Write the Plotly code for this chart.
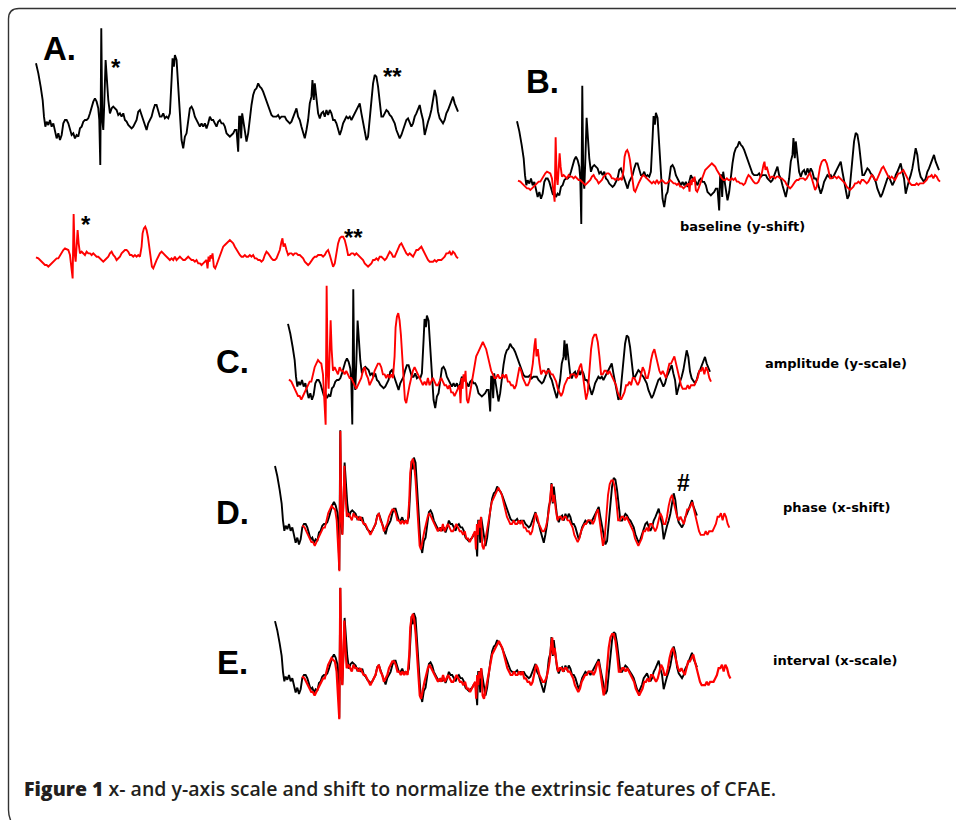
import plotly.graph_objects as go

W, H = 956, 820

# Base (black) electrogram: sample position, amplitude
black_t = [48,55,62,68,72,76,80,85,90,95,100,105,110,115,120,125,130,135,140,145,150,155,160,165,170,175,180,185,190,195,200,205,210,215,220,225,230,235,238,241,244,247,250,253,257,261,265,270,275,280,285,290,295,300,305,310,315,320,325,330,335,340,345,350,355,360,365,370,375,380,385,390,395,400,405,410,415,420,425,430,435,440,445,450,455,458,462,465,470,475,480,485,490,495,500,505,510,515,520,525,530,535,540,545,550,555,560,565,570,575,580,585,590,595,600,605,610,615,620,625,630,635,640,645,650,655,658,661,664,667,670,675,680,685,690,695,700,705,710,715,720,725,730,735,740,745,750,755,760,765,770,775,780,785,790,795,800,805,810,815,820,825,830,835,840,845,850,855,860,865,870,875,878,882,885,890,895,900,905,910,915,920,925,930,935,940,945,950,955,960,965,970,975,980,985,990,995,1000,1005,1010,1015,1020,1025,1030,1035,1040,1045,1050,1055,1060,1065,1070,1075,1080,1085,1090,1095,1100,1105,1110,1115,1120,1125,1130,1135,1140,1145,1150,1155,1160,1165,1170,1175,1180,1185,1190,1195,1200,1205,1210,1215,1220,1225,1230,1235,1240,1245,1250,1255,1260,1265,1270,1275,1280,1285,1290,1295,1300,1305,1310,1315]
black_y = [130,160,200,240,290,320,305,315,300,320,310,330,355,340,360,345,310,300,300,310,330,345,340,355,345,350,325,320,305,300,300,295,280,260,245,235,245,265,300,435,25,300,330,250,120,180,240,280,265,260,265,270,285,280,290,280,300,305,315,320,325,320,310,300,275,270,285,300,310,330,310,300,290,270,255,255,275,290,290,280,295,290,295,280,180,115,140,105,120,200,300,360,385,350,340,300,265,260,270,290,300,310,320,310,320,310,325,310,290,300,300,310,320,305,300,310,310,320,340,345,350,345,340,330,330,395,290,290,355,280,300,340,365,340,290,255,225,210,205,190,200,205,215,230,245,260,275,285,290,290,290,285,295,290,290,290,300,305,310,305,290,275,265,290,300,320,340,355,330,300,250,230,180,240,190,230,280,295,280,275,290,270,285,270,280,300,300,310,330,345,330,310,300,290,295,290,300,290,280,270,255,250,280,310,330,360,350,300,240,190,165,170,200,250,290,290,280,270,275,285,290,300,310,330,345,355,345,330,310,300,295,310,320,310,290,280,265,255,280,300,345,320,305,290,270,240,210,230,275,295,305,310,300,280,270,255,240,230,250,265,275]
black_v = [300 - y for y in black_y]

red_t = [48,55,60,65,70,75,80,85,90,95,100,105,110,115,120,125,130,135,140,145,150,155,158,161,164,167,170,173,176,180,185,190,195,200,205,210,215,220,225,230,235,240,245,250,255,260,265,270,275,280,285,290,295,300,305,310,315,320,325,330,335,340,345,350,355,360,365,368,372,376,380,384,388,392,396,400,405,410,415,420,425,430,435,440,445,450,455,460,465,470,475,480,485,490,495,500,505,510,515,520,525,530,535,540,545,550,555,560,563,566,569,572,575,578,582,586,590,595,600,605,610,615,620,625,630,635,640,645,650,655,660,665,670,675,680,685,690,695,700,705,710,715,720,725,730,735,740,745,750,755,760,765,770,775,780,785,788,791,795,800,805,810,815,820,825,830,835,840,845,850,855,860,865,870,875,880,885,890,895,900,905,910,915,920,925,930,935,940,945,950,955,960,965,970,975,980,985,990,995,1000,1005,1010,1015,1020,1025,1030,1035,1040,1045,1050,1055,1060,1065,1070,1075,1080,1085,1090,1095,1100,1105,1110,1115,1120,1125,1130,1135,1140,1145,1150,1155,1160,1165,1170,1175,1180,1185,1190,1195,1200,1205,1210,1215,1220,1225,1230,1235,1240,1245,1250,1255,1260,1265,1270,1275,1280,1285,1290,1295,1300,1305,1310,1315]
red_y = [172,175,180,185,190,195,195,200,195,190,185,180,175,175,165,155,150,145,148,150,165,200,235,42,160,185,120,90,130,160,155,160,165,155,160,160,165,160,165,170,170,175,180,185,180,175,170,160,155,165,170,180,175,170,160,155,150,150,155,165,165,170,165,170,165,170,140,100,85,80,90,110,140,180,200,205,190,180,170,160,155,160,165,170,175,180,175,180,170,180,175,170,175,180,180,175,170,175,180,180,185,180,190,190,195,190,185,180,205,170,185,165,175,160,200,205,195,180,165,150,140,135,130,125,120,125,130,140,150,160,165,170,170,165,170,170,165,170,165,175,175,180,180,185,180,165,155,160,170,175,180,180,175,165,150,125,115,140,130,150,165,160,160,165,160,160,165,165,170,175,185,190,195,190,180,175,170,170,165,165,165,170,165,155,150,165,185,200,190,160,130,115,110,110,120,140,165,165,160,160,165,160,165,170,175,180,190,195,200,195,190,180,180,175,180,170,170,175,180,175,165,155,160,170,170,160,145,135,130,140,150,160,165,160,165,170,160,150,150,145,140,150,160,170,180,185,185,185,180,185,180,180,180,175,170,160,160,155,165,155,160,170,175]
red_v = [170 - y for y in red_y]

# Panels: (panel, trace, left pixel, px per sample, baseline pixel, px per amplitude unit)
PX_T = 422 / 1267
panels = [
    ("A", "black", 36, PX_T, 120, 1 / 3),
    ("A", "red", 36, PX_T, 256.7, 1 / 3),
    ("B", "black", 517, PX_T, 178.5, 0.337),
    ("B", "red", 518, PX_T, 180, 1 / 3),
    ("C", "black", 288, PX_T, 380, 0.33),
    ("C", "red", 289, PX_T, 378, 0.72),
    ("D", "black", 275, PX_T, 524, 0.341),
    ("D", "red", 302.3, PX_T * 1.012, 524, 0.727),
    ("E", "black", 275, PX_T, 675, 0.317),
    ("E", "red", 302.1, PX_T * 1.015, 675, 0.68),
]

fig = go.Figure()
layout = {}
PAD = 4
for i, (pan, col, x0, pxt, base, pxv) in enumerate(panels, start=1):
    t = black_t if col == "black" else red_t
    v = black_v if col == "black" else red_v
    tmin, tmax, vmin, vmax = min(t), max(t), min(v), max(v)
    xl = x0 + (tmin - t[0]) * pxt - PAD
    xr = x0 + (tmax - t[0]) * pxt + PAD
    ytop = base - vmax * pxv - PAD
    ybot = base - vmin * pxv + PAD
    xa = "x" if i == 1 else f"x{i}"
    ya = "y" if i == 1 else f"y{i}"
    fig.add_trace(go.Scatter(
        x=t, y=v, mode="lines", xaxis=xa, yaxis=ya, showlegend=False,
        line=dict(color="#000000" if col == "black" else "#ff0000",
                  width=1.9 if col == "black" else (2.2 if pan == "E" else 1.9)),
        hoverinfo="skip"))
    key = "" if i == 1 else str(i)
    layout["xaxis" + key] = dict(domain=[xl / W, xr / W],
                                 range=[tmin - PAD / pxt, tmax + PAD / pxt],
                                 visible=False, fixedrange=True, anchor=ya)
    layout["yaxis" + key] = dict(domain=[1 - ybot / H, 1 - ytop / H],
                                 range=[vmin - PAD / pxv, vmax + PAD / pxv],
                                 visible=False, fixedrange=True, anchor=xa)

fig.update_layout(**layout)

def px_ann(text, x, y, size, family="Liberation Sans", xanchor="center",
           color="#000000", weight="normal"):
    return dict(text=text, x=x / W, y=1 - y / H, xref="paper", yref="paper",
                xanchor=xanchor, yanchor="middle", showarrow=False,
                font=dict(size=size, family=family, color=color, weight=weight))

BIG = "Liberation Sans"
anns = [
    px_ann("<b>A.</b>", 41, 48, 33, BIG, "left"),
    px_ann("<b>B.</b>", 524, 82, 33, BIG, "left"),
    px_ann("<b>C.</b>", 214, 362, 33, BIG, "left"),
    px_ann("<b>D.</b>", 214, 512, 33, BIG, "left"),
    px_ann("<b>E.</b>", 215, 662, 33, BIG, "left"),
    px_ann("<b>*</b>", 116, 68, 24, BIG),
    px_ann("<b>**</b>", 392, 77, 24, BIG),
    px_ann("<b>*</b>", 86, 224, 24, BIG),
    px_ann("<b>**</b>", 353, 237, 24, BIG),
    px_ann("<b>#</b>", 683, 483, 23, BIG),
    px_ann("<b>baseline (y-shift)</b>", 742, 226, 13, "DejaVu Sans"),
    px_ann("<b>amplitude (y-scale)</b>", 836, 364, 13, "DejaVu Sans"),
    px_ann("<b>phase (x-shift)</b>", 836, 507, 13, "DejaVu Sans"),
    px_ann("<b>interval (x-scale)</b>", 835, 660, 13, "DejaVu Sans"),
    px_ann("<span style='font-weight:800'>Figure 1</span> x- and y-axis scale and shift to normalize the extrinsic features of CFAE.",
           22, 788, 19.5, "Open Sans", "left", "#231f20", 600),
]

frame = dict(type="path", xref="paper", yref="paper", layer="above",
             path=f"M 1.01 {1 - 8.5 / H} L {19 / W} {1 - 8.5 / H} "
                  f"Q {8.5 / W} {1 - 8.5 / H} {8.5 / W} {1 - 19 / H} "
                  f"L {8.5 / W} {1 - 810 / H} Q {8.5 / W} {1 - 819 / H} {15 / W} -0.01",
             line=dict(color="#333333", width=1.4))

fig.update_layout(width=W, height=H, margin=dict(l=0, r=0, t=0, b=0),
                  paper_bgcolor="white", plot_bgcolor="rgba(0,0,0,0)",
                  annotations=anns, shapes=[frame])

fig.write_html("out.html", config={"displayModeBar": False},
               post_script="document.body.style.margin='0';")
